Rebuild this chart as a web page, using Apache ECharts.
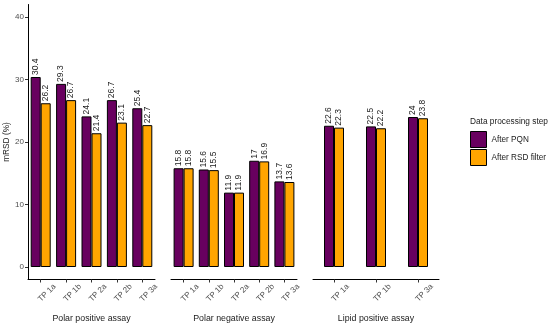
<!DOCTYPE html>
<html><head><meta charset="utf-8">
<script src="https://cdn.jsdelivr.net/npm/echarts@6/dist/echarts.min.js"></script>
<style>html,body{margin:0;padding:0;background:#fff}#c{width:550px;height:326px}</style>
</head><body><div id="c"></div>
<script>
const panelNames = ['Polar positive assay', 'Polar negative assay', 'Lipid positive assay'];
const catsPolarPos = ['TP 1a', 'TP 1b', 'TP 2a', 'TP 2b', 'TP 3a'];
const catsPolarNeg = ['TP 1a', 'TP 1b', 'TP 2a', 'TP 2b', 'TP 3a'];
const catsLipidPos = ['TP 1a', 'TP 1b', 'TP 3a'];
const pqnPolarPos = [30.4, 29.3, 24.1, 26.7, 25.4];
const rsdPolarPos = [26.2, 26.7, 21.4, 23.1, 22.7];
const pqnPolarNeg = [15.8, 15.6, 11.9, 17, 13.7];
const rsdPolarNeg = [15.8, 15.5, 11.9, 16.9, 13.6];
const pqnLipidPos = [22.6, 22.5, 24];
const rsdLipidPos = [22.3, 22.2, 23.8];
const yTicks = [0, 10, 20, 30, 40];
const seriesNames = ['After PQN', 'After RSD filter'];

const FONT = '"Liberation Sans", Arial, sans-serif';
const colors = ['#68005F', '#FFA500'];
const cats = [catsPolarPos, catsPolarNeg, catsLipidPos];
const pqn = [pqnPolarPos, pqnPolarNeg, pqnLipidPos];
const rsd = [rsdPolarPos, rsdPolarNeg, rsdLipidPos];
const gridLefts = [28, 171, 313];
const gridWidths = [127, 126, 126];

const grids = [], xAxes = [], yAxes = [], series = [];
for (let i = 0; i < 3; i++) {
  grids.push({left: gridLefts[i], width: gridWidths[i], top: 4.5, height: 275,
    containLabel: false, outerBoundsMode: 'none'});
  xAxes.push({
    type: 'category', gridIndex: i, data: cats[i], boundaryGap: true,
    axisLine: {onZero: false, lineStyle: {color: '#000', width: 1}},
    axisTick: {show: true, alignWithLabel: true, length: 3, lineStyle: {color: '#333'}},
    axisLabel: {rotate: 45, fontSize: 8, color: '#4d4d4d', fontFamily: FONT, margin: 7, interval: 0,
      align: 'center', verticalAlign: 'top', lineHeight: 18, hideOverlap: false},
    name: panelNames[i], nameLocation: 'middle', nameGap: 34,
    nameTextStyle: {fontSize: 8.8, color: '#1a1a1a', fontFamily: FONT}
  });
  yAxes.push({
    type: 'value', gridIndex: i, min: -2, max: 42,
    show: i === 0,
    axisLine: {show: i === 0, lineStyle: {color: '#000', width: 1}},
    axisTick: {show: i === 0, length: 3, customValues: yTicks, lineStyle: {color: '#333'}},
    axisLabel: {show: i === 0, customValues: yTicks, fontSize: 8, color: '#4d4d4d', fontFamily: FONT, margin: 4},
    splitLine: {show: false},
    name: i === 0 ? 'mRSD (%)' : '', nameLocation: 'middle', nameGap: 17,
    nameTextStyle: {fontSize: 8.3, color: '#1a1a1a', fontFamily: FONT}
  });
  [pqn[i], rsd[i]].forEach((arr, k) => {
    series.push({
      type: 'bar', name: seriesNames[k], xAxisIndex: i, yAxisIndex: i,
      data: arr, barWidth: 10, barGap: '0%',
      itemStyle: {color: colors[k], borderColor: '#000', borderWidth: 1},
      label: {
        show: true, position: 'top', rotate: 90, align: 'left', verticalAlign: 'middle',
        distance: 2, fontSize: 8.5, color: '#1a1a1a', fontFamily: FONT,
        formatter: p => String(p.value)
      },
      emphasis: {disabled: true}, animation: false
    });
  });
}

const chart = echarts.init(document.getElementById('c'), null, {renderer: 'canvas'});
chart.setOption({
  animation: false,
  title: {text: 'Data processing step', left: 470, top: 118, padding: 0,
    textStyle: {fontSize: 8.3, fontWeight: 'normal', color: '#1a1a1a', fontFamily: FONT}},
  legend: {
    data: seriesNames, orient: 'vertical', left: 470, top: 131, padding: 0,
    itemWidth: 16, itemHeight: 16, itemGap: 1,
    icon: 'rect',
    itemStyle: {borderColor: '#000', borderWidth: 1},
    textStyle: {fontSize: 8.2, color: '#1a1a1a', fontFamily: FONT}
  },
  grid: grids, xAxis: xAxes, yAxis: yAxes, series: series
});
</script></body></html>
